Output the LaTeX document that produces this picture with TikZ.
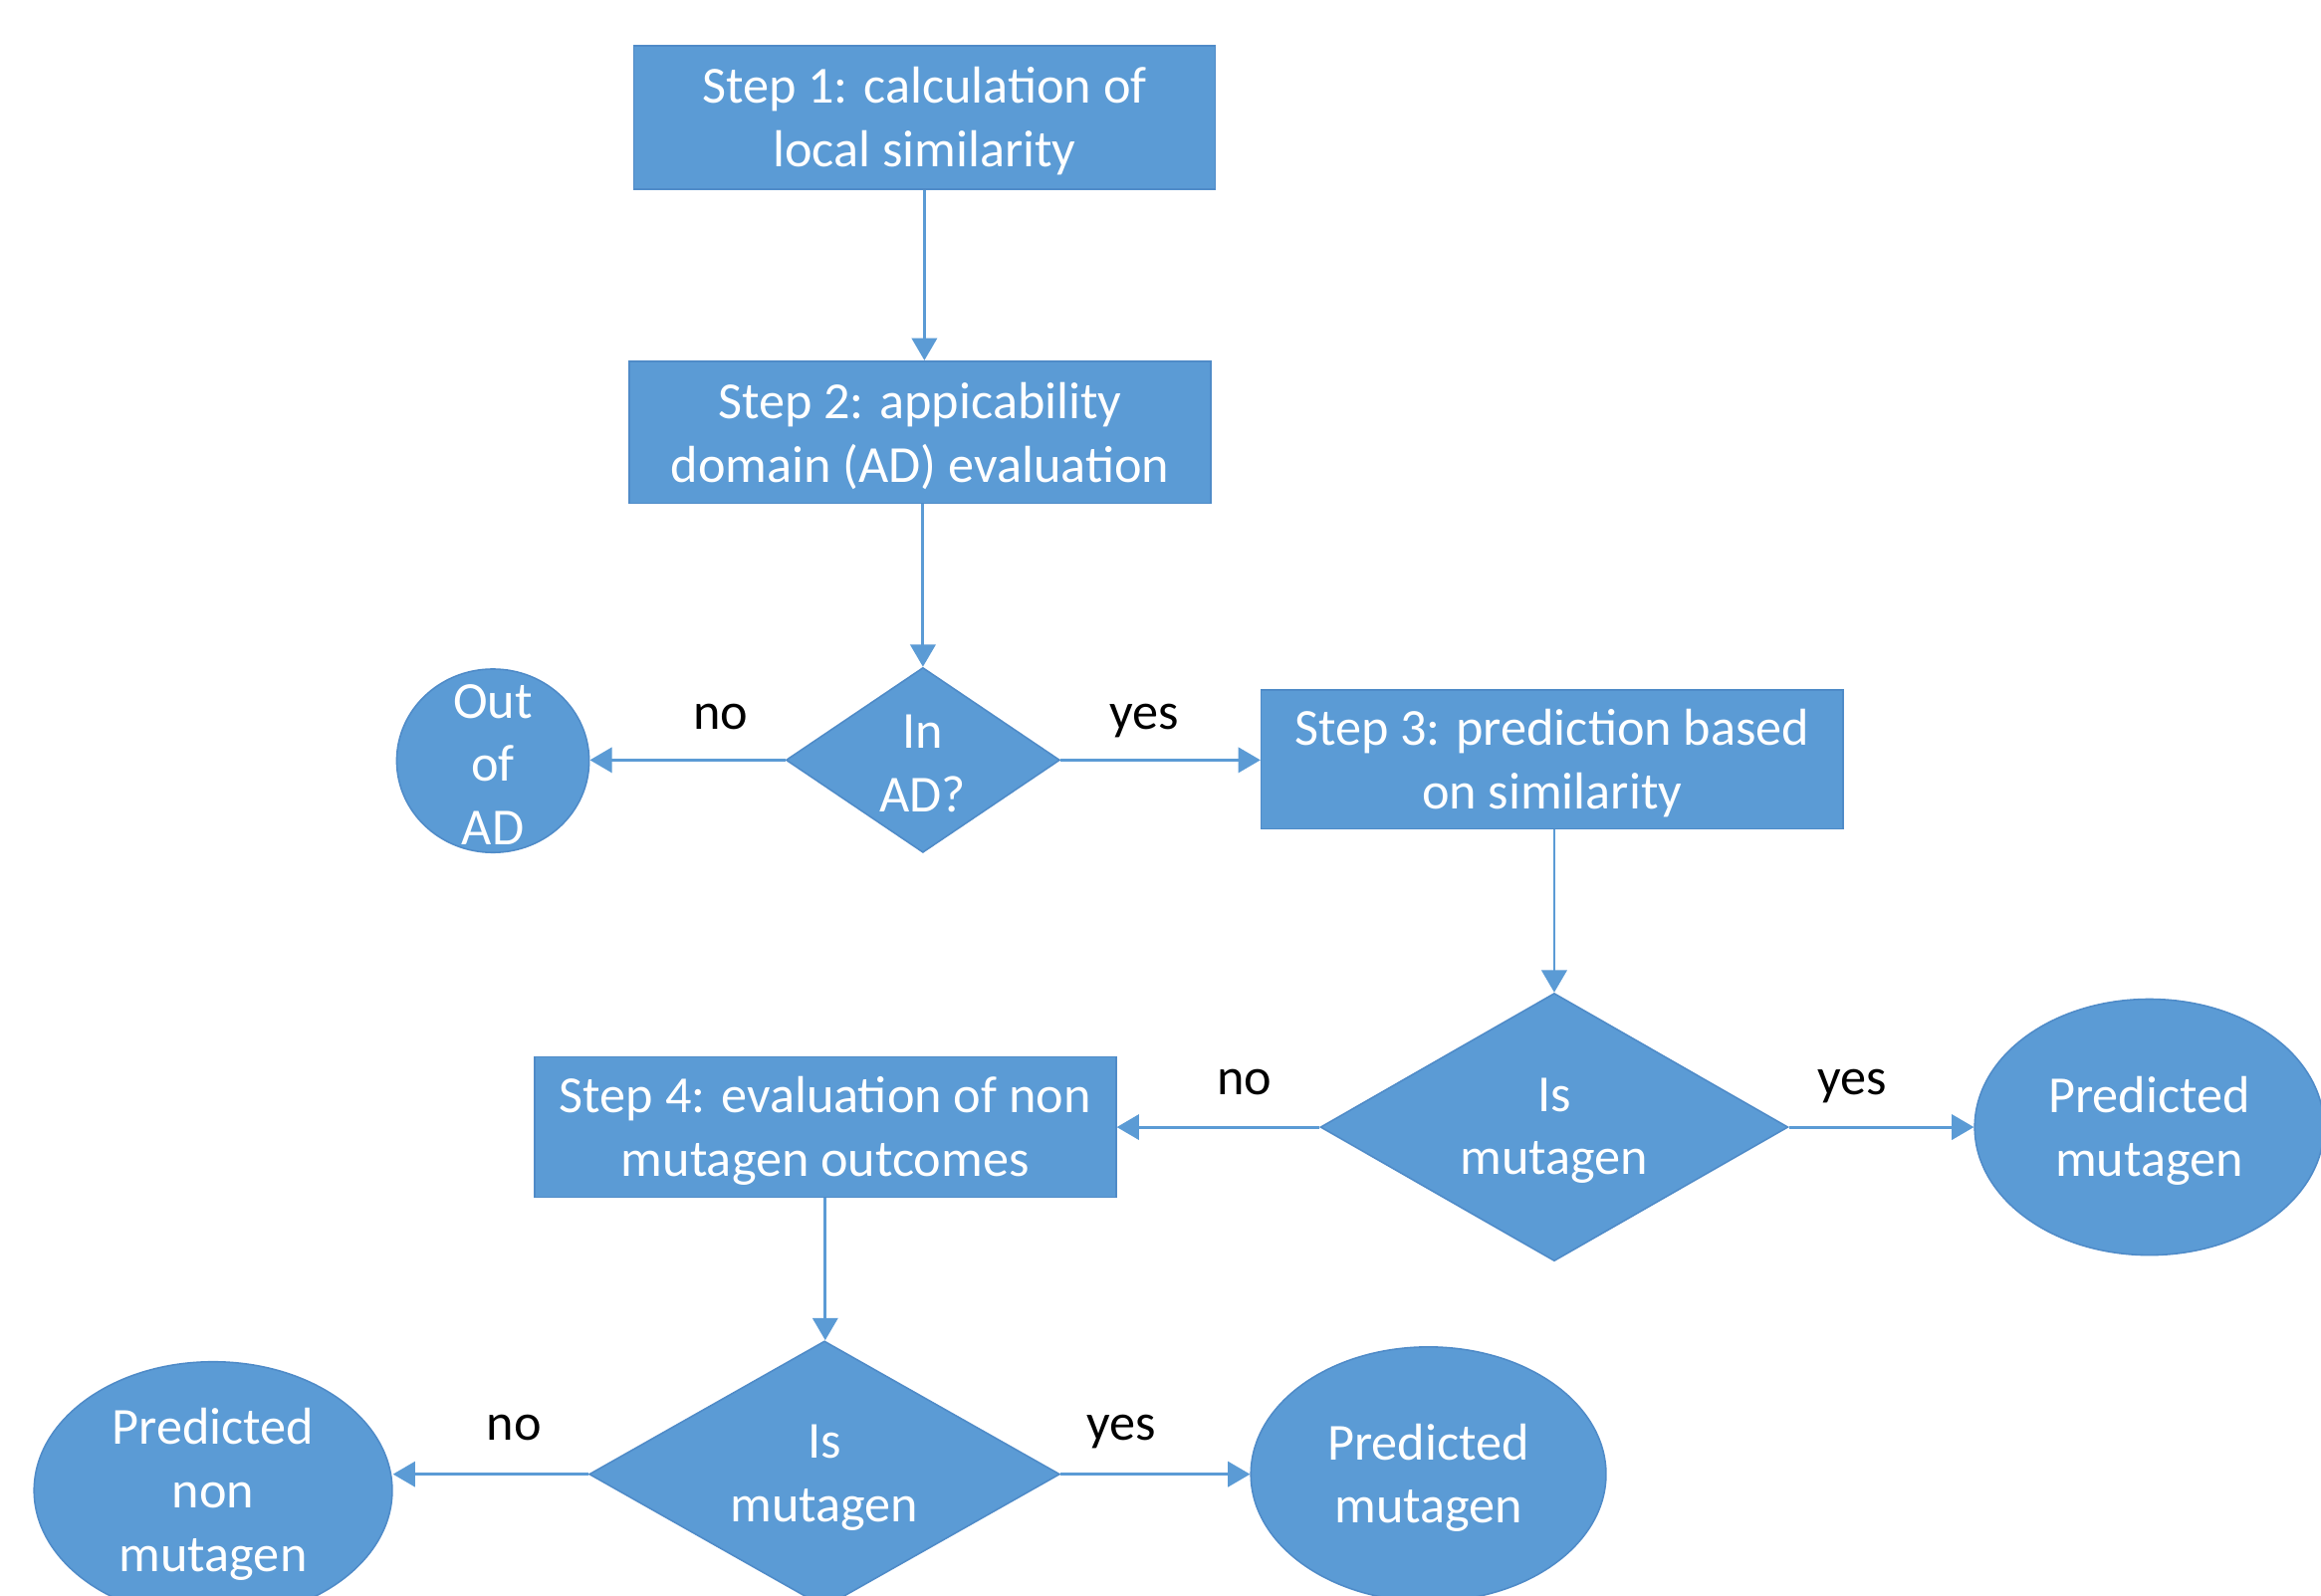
\documentclass[tikz,border=0pt]{standalone}
\usepackage{fontspec}
\setmainfont{Carlito}
\usetikzlibrary{shapes.geometric,arrows.meta}
\definecolor{fillblue}{HTML}{5B9BD5}
\definecolor{edgeblue}{HTML}{4F8BC8}
\definecolor{arrowblue}{HTML}{5B9BD5}
\tikzset{
  x=0.02cm, y=-0.02cm,
  base/.style={fill=fillblue, draw=edgeblue, line width=0.6pt, inner sep=0pt},
  stepbox/.style={base, rectangle, minimum width=7.86cm},
  dia/.style={base, diamond},
  oval/.style={base, ellipse},
  txt/.style={text=white, align=center, font=\fontsize{20}{24.4}\selectfont, inner sep=0pt, yshift=-0.05cm},
  lbl/.style={text=black, font=\fontsize{20}{24.4}\selectfont, inner sep=0pt, anchor=base},
  conn/.style={draw=arrowblue, line width=1.1pt, -{Triangle[width=0.34cm,length=0.3cm]}},
}
\begin{document}
\begin{tikzpicture}
\path[use as bounding box, clip] (0,0) rectangle (1568,1078);
\fill[white] (0,0) rectangle (1568,1078);

% boxes
\node[stepbox, minimum height=1.94cm] (s1) at (624.5,79.5) {};
\node[txt] (t1) at (s1) {Step 1: calculation of\\local similarity};
\node[stepbox, minimum height=1.92cm] (s2) at (621.5,292) {};
\node[txt] (t2) at (s2) {Step 2: appicability\\domain (AD) evaluation};
\node[dia, minimum width=3.7cm, minimum height=2.5cm] (d1) at (623.5,513.5) {};
\node[txt] (td1) at (d1) {In\\AD?};
\node[oval, minimum width=2.6cm, minimum height=2.48cm] (out) at (333,514) {};
\node[txt] (tout) at (out) {Out\\of\\AD};
\node[stepbox, minimum height=1.88cm] (s3) at (1048.5,513) {};
\node[txt] (t3) at (s3) {Step 3: prediction based\\on similarity};
\node[dia, minimum width=6.32cm, minimum height=3.62cm] (d2) at (1050,761.5) {};
\node[txt] (td2) at (d2) {Is\\mutagen};
\node[oval, minimum width=4.72cm, minimum height=3.46cm] (pm1) at (1452,761.5) {};
\node[txt] (tpm1) at (pm1) {Predicted\\mutagen};
\node[stepbox, minimum height=1.9cm] (s4) at (557.5,761.5) {};
\node[txt] (t4) at (s4) {Step 4: evaluation of non\\mutagen outcomes};
\node[dia, minimum width=6.36cm, minimum height=3.6cm] (d3) at (557,996) {};
\node[txt] (td3) at (d3) {Is\\mutagen};
\node[oval, minimum width=4.84cm, minimum height=3.48cm] (pn) at (144,1007) {};
\node[txt] (tpn) at (pn) {Predicted\\non\\mutagen};
\node[oval, minimum width=4.8cm, minimum height=3.44cm] (pm2) at (965,996) {};
\node[txt] (tpm2) at (pm2) {Predicted\\mutagen};

% connectors
\draw[conn] (s1.south) -- (s1.south |- s2.north);
\draw[conn] (d1.north |- s2.south) -- (d1.north);
\draw[conn] (d1.west) -- node[lbl, pos=0.33, yshift=0.42cm] {no} (d1.west -| out.east);
\draw[conn] (d1.east) -- node[lbl, pos=0.42, yshift=0.42cm] {yes} (d1.east -| s3.west);
\draw[conn] (d2.north |- s3.south) -- (d2.north);
\draw[conn] (d2.west) -- node[lbl, pos=0.37, yshift=0.44cm] {no} (d2.west -| s4.east);
\draw[conn] (d2.east) -- node[lbl, pos=0.34, yshift=0.44cm] {yes} (d2.east -| pm1.west);
\draw[conn] (s4.south) -- (s4.south |- d3.north);
\draw[conn] (d3.west) -- node[lbl, pos=0.38, yshift=0.46cm] {no} (d3.west -| pn.east);
\draw[conn] (d3.east) -- node[lbl, pos=0.32, yshift=0.46cm] {yes} (d3.east -| pm2.west);
\end{tikzpicture}
\end{document}
